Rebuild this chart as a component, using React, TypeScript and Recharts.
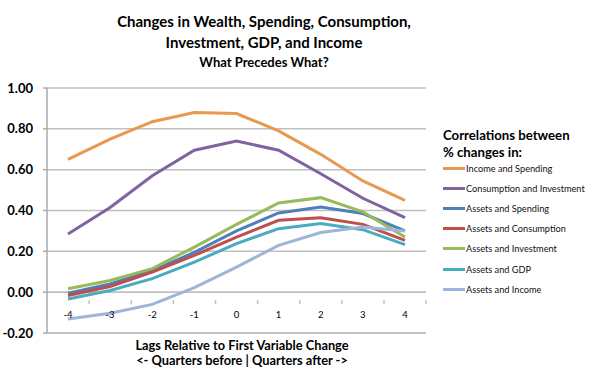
import React from 'react';
import { LineChart, Line, XAxis, YAxis, CartesianGrid, ReferenceLine } from 'recharts';

const lags = ['-4', '-3', '-2', '-1', '0', '1', '2', '3', '4'];
const incomeSpending = [0.65, 0.75, 0.835, 0.88, 0.875, 0.79, 0.675, 0.545, 0.45];
const consumptionInvestment = [0.285, 0.415, 0.57, 0.695, 0.74, 0.695, 0.58, 0.46, 0.365];
const assetsSpending = [-0.005, 0.04, 0.105, 0.195, 0.3, 0.388, 0.417, 0.385, 0.3];
const assetsConsumption = [-0.016, 0.028, 0.098, 0.18, 0.27, 0.352, 0.365, 0.332, 0.254];
const assetsInvestment = [0.017, 0.057, 0.115, 0.221, 0.332, 0.437, 0.463, 0.393, 0.27];
const assetsGDP = [-0.033, 0.008, 0.066, 0.147, 0.238, 0.311, 0.336, 0.306, 0.233];
const assetsIncome = [-0.131, -0.103, -0.06, 0.022, 0.123, 0.229, 0.292, 0.319, 0.3];
const yTicks = [-0.2, 0, 0.2, 0.4, 0.6, 0.8, 1.0];

const series = [
  { key: 'incomeSpending', name: 'Income and Spending', values: incomeSpending, color: '#E8994F' },
  { key: 'consumptionInvestment', name: 'Consumption and Investment', values: consumptionInvestment, color: '#7E63A0' },
  { key: 'assetsSpending', name: 'Assets and Spending', values: assetsSpending, color: '#4F7EB8' },
  { key: 'assetsConsumption', name: 'Assets and Consumption', values: assetsConsumption, color: '#BE4F4C' },
  { key: 'assetsInvestment', name: 'Assets and Investment', values: assetsInvestment, color: '#98BA5A' },
  { key: 'assetsGDP', name: 'Assets and GDP', values: assetsGDP, color: '#4AAABF' },
  { key: 'assetsIncome', name: 'Assets and Income', values: assetsIncome, color: '#9EB4D8' },
];

const data = lags.map((lag, i) => {
  const row: Record<string, string | number> = { lag };
  series.forEach((s) => {
    row[s.key] = s.values[i];
  });
  return row;
});

const FONT = 'Lato, "Open Sans", sans-serif';
const PLOT_TOP = 88;
const PLOT_BOTTOM_MARGIN = 38;
const HEIGHT = 371;
const PLOT_H = HEIGHT - PLOT_TOP - PLOT_BOTTOM_MARGIN;
const ZERO_OFFSET = (PLOT_H * 0.2) / 1.2;
const HALF_BAND = 21;

const XTick = (props: any) => {
  const { x, y, payload, index } = props;
  const zeroY = y - ZERO_OFFSET;
  return (
    <g>
      <line x1={x - HALF_BAND} x2={x - HALF_BAND} y1={zeroY} y2={zeroY + 4} stroke="#bfbfbf" strokeWidth={1.5} />
      {index === lags.length - 1 && (
        <line x1={x + HALF_BAND} x2={x + HALF_BAND} y1={zeroY} y2={zeroY + 4} stroke="#bfbfbf" strokeWidth={1.5} />
      )}
      <text x={x} y={zeroY + 18} textAnchor="middle" fontSize={9.5} fontFamily={FONT} fill="#000">
        {payload.value}
      </text>
    </g>
  );
};

export default function App() {
  return (
    <div style={{ position: 'absolute', left: 0, top: 0, width: 593, height: 371, background: '#fff', fontFamily: FONT }}>
      <div style={{ position: 'absolute', left: 0, top: 11, width: 528, textAlign: 'center', fontWeight: 700, fontSize: 15, lineHeight: '21px', color: '#000' }}>
        Changes in Wealth, Spending, Consumption,
        <br />
        Investment, GDP, and Income
      </div>
      <div style={{ position: 'absolute', left: 0, top: 54, width: 528, textAlign: 'center', fontWeight: 700, fontSize: 13, lineHeight: '16px', color: '#000' }}>
        What Precedes What?
      </div>
      <LineChart width={593} height={371} data={data} margin={{ top: PLOT_TOP, right: 167, bottom: 0, left: 0 }}>
        <CartesianGrid horizontal vertical={false} stroke="#c0c0c0" strokeWidth={1.5} />
        <XAxis dataKey="lag" axisLine={false} tickLine={false} tick={<XTick />} padding={{ left: HALF_BAND, right: HALF_BAND }} interval={0} height={PLOT_BOTTOM_MARGIN} />
        <YAxis
          width={47}
          domain={[-0.2, 1]}
          ticks={yTicks}
          tickFormatter={(v: number) => v.toFixed(2)}
          axisLine={{ stroke: '#aaaaaa', strokeWidth: 1.5 }}
          tickLine={{ stroke: '#aaaaaa', strokeWidth: 1.5 }}
          tickSize={4}
          tickMargin={10}
          tick={{ fontSize: 13, fontWeight: 700, fill: '#000', fontFamily: FONT }}
        />
        <ReferenceLine y={0} stroke="#bfbfbf" strokeWidth={1.5} />
        <ReferenceLine y={-0.2} stroke="#bfbfbf" strokeWidth={1.5} />
        {series.map((s) => (
          <Line key={s.key} dataKey={s.key} name={s.name} stroke={s.color} strokeWidth={3} dot={false} type="linear" isAnimationActive={false} />
        ))}
      </LineChart>
      <div style={{ position: 'absolute', left: 443, top: 127, fontWeight: 700, fontSize: 13.2, lineHeight: '17px', color: '#000', whiteSpace: 'nowrap' }}>
        Correlations between
        <br />
        % changes in:
      </div>
      {series.map((s, i) => (
        <div key={s.key} style={{ position: 'absolute', left: 443, top: 161 + i * 20.2, height: 14, display: 'flex', alignItems: 'center', fontSize: 9.2, color: '#111', whiteSpace: 'nowrap' }}>
          <span style={{ display: 'inline-block', width: 22, height: 3, background: s.color, marginRight: 1 }} />
          <span>{s.name}</span>
        </div>
      ))}
      <div style={{ position: 'absolute', left: 0, top: 338, width: 484, textAlign: 'center', fontWeight: 700, fontSize: 12.8, lineHeight: '15px', color: '#000' }}>
        Lags Relative to First Variable Change
        <br />
        {'<-  Quarters before | Quarters after ->'}
      </div>
    </div>
  );
}
